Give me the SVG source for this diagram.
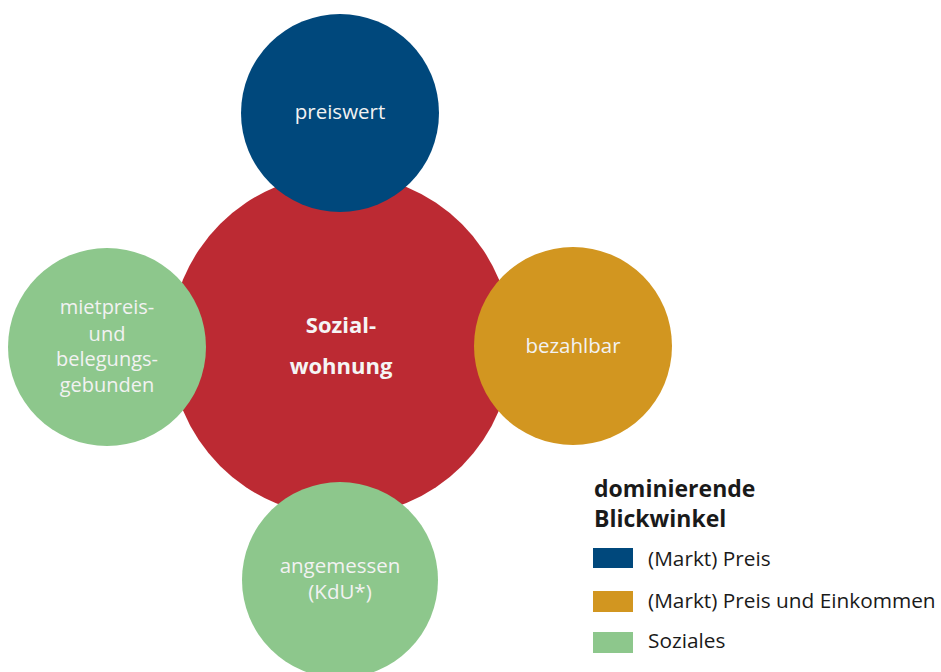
<svg xmlns="http://www.w3.org/2000/svg" width="941" height="672" viewBox="0 0 941 672">
<style>
.lbl{font-family:"Open Sans","Noto Sans","Liberation Sans",sans-serif;font-size:20.5px;fill:#f2f2f2;text-anchor:middle}
.sm{font-size:20px}
.ctr{font-family:"Open Sans","Noto Sans","Liberation Sans",sans-serif;font-size:22px;font-weight:bold;fill:#f5f5f5;text-anchor:middle}
.lh{font-family:"Open Sans","Noto Sans","Liberation Sans",sans-serif;font-size:23px;font-weight:bold;fill:#1a1a1a}
.lt{font-family:"Open Sans","Noto Sans","Liberation Sans",sans-serif;font-size:20.8px;fill:#1a1a1a}
</style>
<rect width="941" height="672" fill="#ffffff"/>
<g id="connectors"></g>
<g id="sozialwohnung">
<circle cx="341" cy="345" r="171" fill="#bc2a33"/>
<text class="ctr" x="341" y="333">Sozial-</text>
<text class="ctr" x="341" y="374">wohnung</text>
</g>
<g id="preiswert">
<circle cx="340" cy="113" r="99" fill="#00487c"/>
<text class="lbl" x="340" y="119">preiswert</text>
</g>
<g id="mietpreis">
<circle cx="107" cy="347" r="99" fill="#8dc78c"/>
<text class="lbl sm" x="107" y="314">mietpreis-</text>
<text class="lbl sm" x="107" y="341">und</text>
<text class="lbl sm" x="107" y="366">belegungs-</text>
<text class="lbl sm" x="107" y="392">gebunden</text>
</g>
<g id="bezahlbar">
<circle cx="573" cy="346" r="99" fill="#d29620"/>
<text class="lbl" x="573" y="353">bezahlbar</text>
</g>
<g id="angemessen">
<circle cx="340" cy="580" r="98" fill="#8dc78c"/>
<text class="lbl" x="340" y="573">angemessen</text>
<text class="lbl" x="340" y="599">(KdU*)</text>
</g>
<g id="legend">
<text class="lh" x="594" y="497">dominierende</text>
<text class="lh" x="594" y="527">Blickwinkel</text>
<rect x="593" y="548" width="40" height="20" fill="#00487c"/>
<text class="lt" x="648" y="566">(Markt) Preis</text>
<rect x="593" y="591" width="40" height="21" fill="#d29620"/>
<text class="lt" x="648" y="608">(Markt) Preis und Einkommen</text>
<rect x="593" y="632" width="40" height="21" fill="#8dc78c"/>
<text class="lt" x="648" y="648">Soziales</text>
</g>
</svg>
